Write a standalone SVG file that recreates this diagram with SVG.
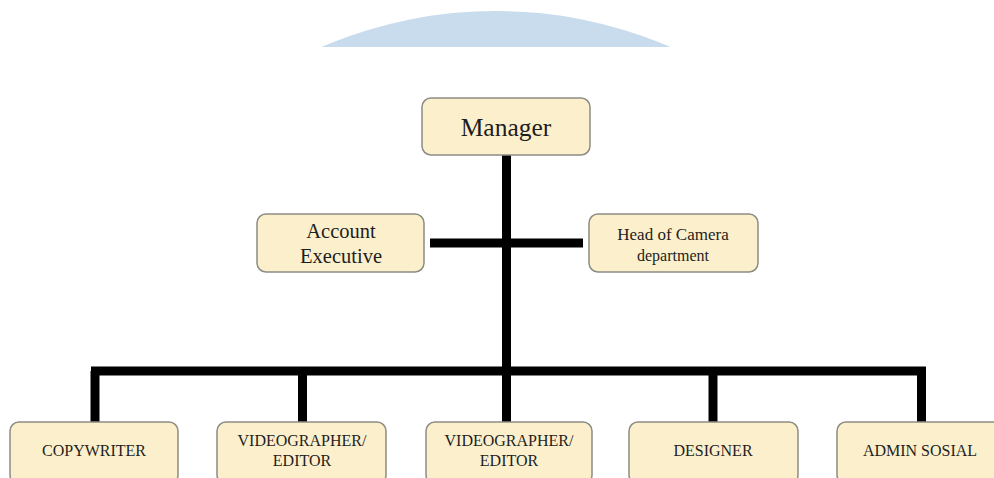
<svg xmlns="http://www.w3.org/2000/svg" width="994" height="478" viewBox="0 0 994 478">
<style>
.box{fill:#fcf0cc;stroke:#8c8c84;stroke-width:1.5}
.t{font-family:"Liberation Serif","Times New Roman",serif;fill:#1e1e1e;text-anchor:middle}
.ln{stroke:#000;stroke-width:9;fill:none}
</style>
<defs>
<clipPath id="cut"><rect x="0" y="0" width="994" height="47"/></clipPath>
</defs>
<rect width="994" height="478" fill="#fff"/>
<circle cx="496" cy="452" r="441" fill="#c8dcee" clip-path="url(#cut)"/>
<g id="connectors">
<line class="ln" x1="506.5" y1="155" x2="506.5" y2="371"/>
<line class="ln" x1="430" y1="243" x2="583" y2="243"/>
<line class="ln" x1="91" y1="371" x2="926" y2="371"/>
<line class="ln" x1="95" y1="371" x2="95" y2="422"/>
<line class="ln" x1="302.5" y1="371" x2="302.5" y2="422"/>
<line class="ln" x1="506.5" y1="371" x2="506.5" y2="422"/>
<line class="ln" x1="713" y1="371" x2="713" y2="422"/>
<line class="ln" x1="921.5" y1="371" x2="921.5" y2="422"/>
</g>
<g id="manager">
<rect class="box" x="422" y="98" width="168" height="57" rx="9"/>
<text class="t" x="506" y="136" font-size="25.5">Manager</text>
</g>
<g id="account-executive">
<rect class="box" x="257" y="214" width="167" height="58" rx="9"/>
<text class="t" x="341" y="238" font-size="20.5">Account</text>
<text class="t" x="341" y="263" font-size="20.5">Executive</text>
</g>
<g id="head-of-camera">
<rect class="box" x="589" y="214" width="169" height="58" rx="9"/>
<text class="t" x="673" y="240" font-size="17">Head of Camera</text>
<text class="t" x="673" y="261" font-size="16">department</text>
</g>
<g id="copywriter">
<rect class="box" x="10" y="422" width="168" height="62" rx="9"/>
<text class="t" x="94" y="456" font-size="16">COPYWRITER</text>
</g>
<g id="videographer1">
<rect class="box" x="217" y="422" width="169" height="62" rx="9"/>
<text class="t" x="302" y="446" font-size="16">VIDEOGRAPHER/</text>
<text class="t" x="302" y="466" font-size="16">EDITOR</text>
</g>
<g id="videographer2">
<rect class="box" x="426" y="422" width="166" height="62" rx="9"/>
<text class="t" x="509" y="446" font-size="16">VIDEOGRAPHER/</text>
<text class="t" x="509" y="466" font-size="16">EDITOR</text>
</g>
<g id="designer">
<rect class="box" x="629" y="422" width="169" height="62" rx="9"/>
<text class="t" x="713" y="456" font-size="16">DESIGNER</text>
</g>
<g id="admin-sosial">
<rect class="box" x="837" y="422" width="168" height="62" rx="9"/>
<text class="t" x="920" y="456" font-size="16">ADMIN SOSIAL</text>
</g>
</svg>
